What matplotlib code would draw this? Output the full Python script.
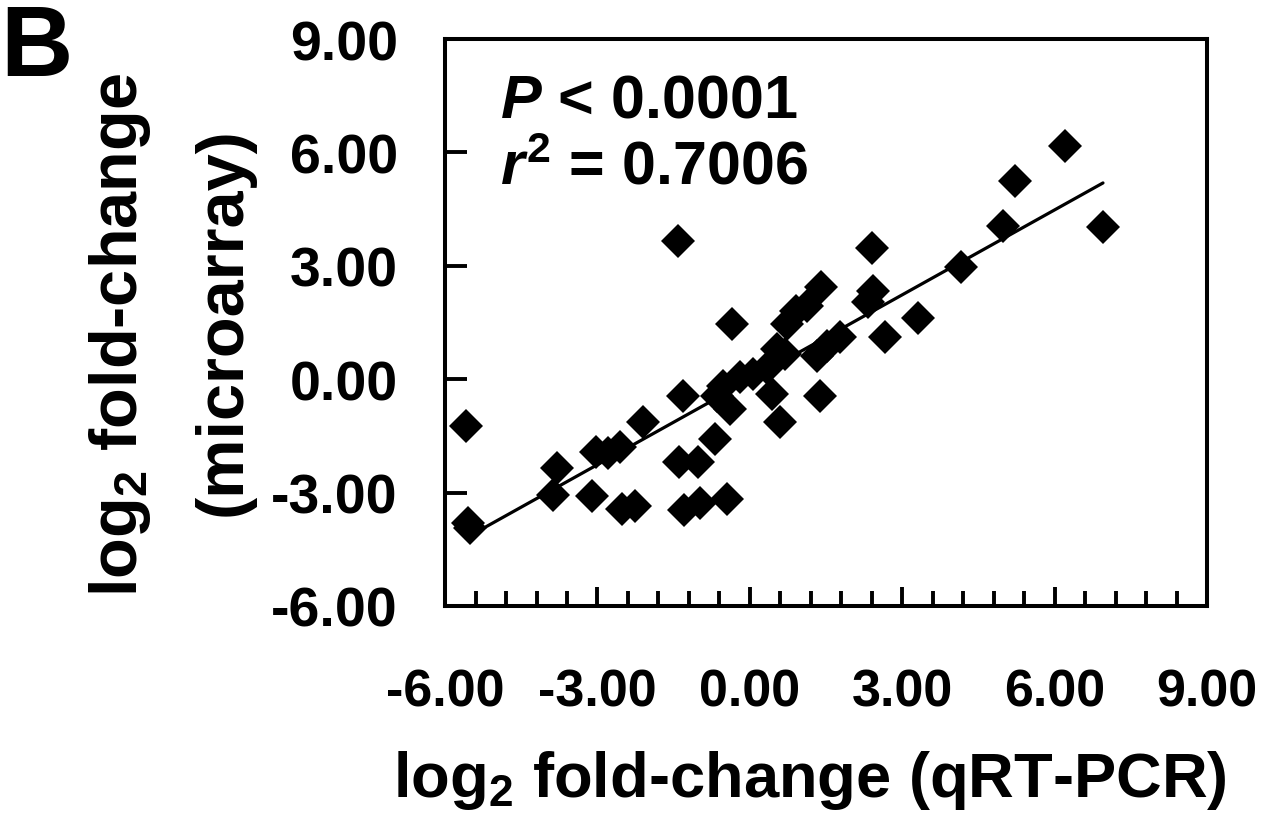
import numpy as np
import matplotlib
matplotlib.use("Agg")
import matplotlib.pyplot as plt
from matplotlib.ticker import MultipleLocator, FixedLocator

plt.rcParams['font.family'] = ['Liberation Sans', 'DejaVu Sans']
plt.rcParams['font.weight'] = 'bold'
plt.rcParams['mathtext.fontset'] = 'custom'
plt.rcParams['mathtext.rm'] = 'Liberation Sans:bold'
plt.rcParams['mathtext.bf'] = 'Liberation Sans:bold'
plt.rcParams['mathtext.it'] = 'Liberation Sans:bold:italic'

# log2 fold-change: qRT-PCR (x) vs microarray (y)
qrt_pcr = [-5.59, -5.55, -5.50, -3.80, -3.87, -3.11, -3.03, -2.80, -2.56, -2.10,
           -2.52, -2.26, -1.40, -1.02, -1.30, -0.98, -0.45, -1.31, -1.41, -0.35,
           -0.69, -0.39, -0.65, -0.53, -0.19, 0.06, 0.44, 0.59, 0.34, 0.69,
           0.54, 0.73, 0.90, 1.13, 1.40, 1.32, 1.52, 1.78, 1.38, 2.41,
           2.43, 2.33, 2.66, 3.31, 4.16, 4.98, 5.22, 6.20, 6.95]
microarray = [-1.24, -3.80, -3.95, -2.35, -3.07, -3.09, -1.93, -1.95, -1.80, -1.14,
              -3.44, -3.36, -2.20, -2.20, -3.45, -3.28, -3.17, -0.45, 3.65, 1.46,
              -1.59, -0.79, -0.45, -0.18, 0.05, 0.15, -0.40, -1.14, 0.30, 0.66,
              0.79, 1.45, 1.80, 1.93, 2.45, 0.61, 0.87, 1.11, -0.45, 3.47,
              2.33, 2.04, 1.11, 1.61, 2.96, 4.05, 5.24, 6.16, 4.02]
p_text = r"$P$ < 0.0001"
r2_text = r"$r^2$ = 0.7006"
ticks = [-6, -3, 0, 3, 6, 9]
tick_labels = ["-6.00", "-3.00", "0.00", "3.00", "6.00", "9.00"]

x = np.array(qrt_pcr)
y = np.array(microarray)
slope, intercept = np.polyfit(x, y, 1)
xfit = np.array([x.min(), x.max()])

fig = plt.figure(figsize=(12.68, 8.2), dpi=100)
ax = fig.add_axes([0.351, 0.2598, 0.601, 0.6914])

ax.plot(xfit, slope * xfit + intercept, color='black', lw=2.3, solid_capstyle='round', zorder=2)
ax.plot(x, y, linestyle='none', marker='D', ms=17, color='black', mew=0, zorder=3)

ax.set_xlim(-6, 9)
ax.set_ylim(-6, 9)
ax.xaxis.set_major_locator(FixedLocator(ticks))
ax.yaxis.set_major_locator(FixedLocator(ticks))
ax.xaxis.set_minor_locator(MultipleLocator(0.6))
ax.set_xticklabels(tick_labels)
ax.set_yticklabels(tick_labels)

for s in ax.spines.values():
    s.set_linewidth(2.9)
ax.tick_params(axis='x', which='major', direction='in', length=14, width=2.8, pad=44, labelsize=37.5)
ax.tick_params(axis='x', which='minor', direction='in', length=10.5, width=2.8)
ax.tick_params(axis='y', which='major', direction='in', length=16, width=2.8, pad=34, labelsize=40)

ax.text(0.072, 0.89, p_text, transform=ax.transAxes, fontsize=44, va='center', ha='left')
ax.text(0.072, 0.772, r2_text, transform=ax.transAxes, fontsize=44, va='center', ha='left')

fig.text(810 / 1268, 1 - 781 / 820, r"log$_2$ fold-change (qRT-PCR)", fontsize=45.5, ha='center', va='center')
fig.text(120 / 1268, 1 - 335 / 820, r"log$_2$ fold-change", fontsize=48, rotation=90, ha='center', va='center')
fig.text(224 / 1268, 1 - 322 / 820, "(microarray)", fontsize=48, rotation=90, ha='center', va='center')
fig.text(0.0, 1 - 3 / 820, "B", fontsize=72, ha='left', va='top')

fig.savefig("out.png", dpi=100, facecolor='white')
